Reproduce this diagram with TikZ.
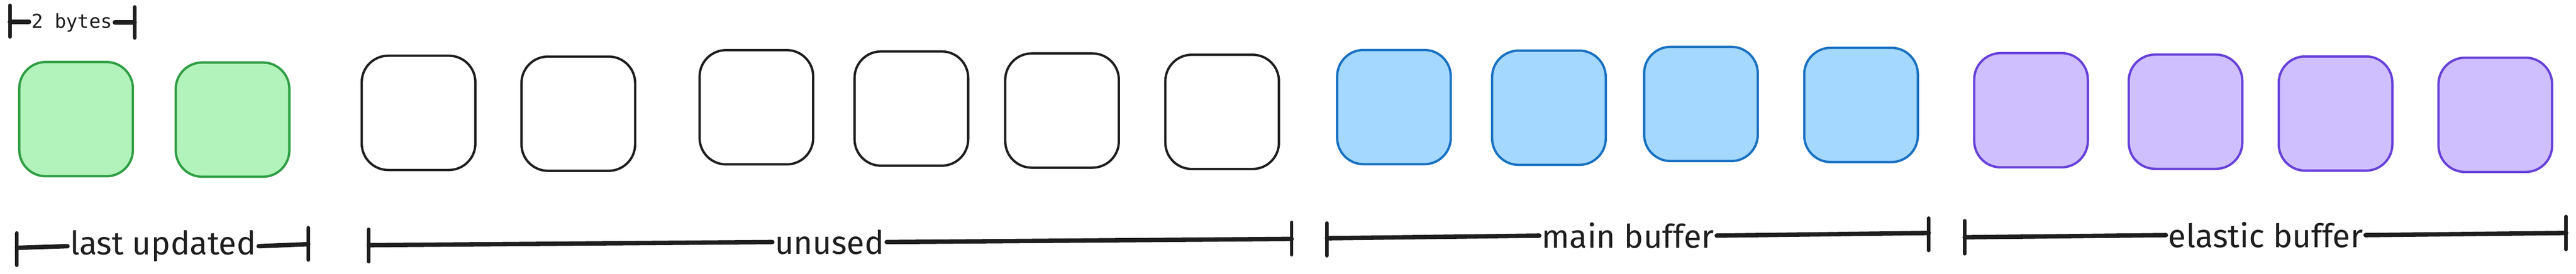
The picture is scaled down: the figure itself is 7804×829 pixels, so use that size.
\documentclass[tikz,border=0pt]{standalone}
\usepackage{fontspec}
\setmainfont{Fira Sans}
\newfontfamily\monofont{DejaVu Sans Mono}
\definecolor{ink}{HTML}{1E1E1E}
\definecolor{gfill}{HTML}{B2F2BB}
\definecolor{gline}{HTML}{2F9E44}
\definecolor{bfill}{HTML}{A5D8FF}
\definecolor{bline}{HTML}{1971C2}
\definecolor{pfill}{HTML}{D0BFFF}
\definecolor{pline}{HTML}{6741D9}
\begin{document}
\begin{tikzpicture}[x=0.01cm,y=-0.01cm,
  cell/.style={rounded corners=0.8cm, line width=2pt, minimum width=3.44cm,
    minimum height=3.46cm, inner sep=0pt},
  gcell/.style={cell, draw=gline, fill=gfill},
  wcell/.style={cell, draw=ink, fill=white},
  bcell/.style={cell, draw=bline, fill=bfill},
  pcell/.style={cell, draw=pline, fill=pfill},
  span/.style={line width=3.8pt, draw=ink, line cap=round},
  bar/.style={line width=3pt, draw=ink, line cap=round},
  lab/.style={font=\fontsize{28}{30}\selectfont, text=ink, inner sep=2pt},
  monolab/.style={font=\monofont\fontsize{16.5}{18}\selectfont, text=ink, inner sep=2pt}]
\useasboundingbox (0,0) rectangle (7804,829);

% cells
\node[gcell] (c1)  at (230.5,361) {};
\node[gcell] (c2)  at (704.5,362.5) {};
\node[wcell] (c3)  at (1268,342) {};
\node[wcell] (c4)  at (1752,344.5) {};
\node[wcell] (c5)  at (2291.5,325) {};
\node[wcell] (c6)  at (2761,329) {};
\node[wcell] (c7)  at (3217.5,335) {};
\node[wcell] (c8)  at (3702.5,339) {};
\node[bcell] (c9)  at (4223,324.5) {};
\node[bcell] (c10) at (4692.5,326.5) {};
\node[bcell] (c11) at (5153,315) {};
\node[bcell] (c12) at (5638,318) {};
\node[pcell] (c13) at (6153,334) {};
\node[pcell] (c14) at (6621,338.5) {};
\node[pcell] (c15) at (7075.5,344) {};
\node[pcell] (c16) at (7559.5,348) {};

% 2 bytes
\coordinate (byL) at (30,66);
\coordinate (byR) at (408,68);
\node[monolab, anchor=base] (by) at (218,85) {2 bytes};
\draw[span] (byL) -- (by.west |- byL);
\draw[span] (by.east |- byR) -- (byR);
\draw[bar] (byL) ++(0,-50) -- ++(0,96);
\draw[bar] (byR) ++(0,-47) -- ++(0,94);

% last updated
\coordinate (luL) at (51,751);
\coordinate (luR) at (934,740);
\node[lab] (lu) at (494,746) {last updated};
\draw[span] (luL) -- (lu.west);
\draw[span] (lu.east) -- (luR);
\draw[bar] (luL) ++(0,-45) -- ++(0,98);
\draw[bar] (luR) ++(0,-50) -- ++(0,98);

% unused
\coordinate (unL) at (1117,743);
\coordinate (unR) at (3913,724);
\node[lab] (un) at (2513,733.5) {unused};
\draw[span] (unL) -- (un.west);
\draw[span] (un.east) -- (unR);
\draw[bar] (unL) ++(0,-48) -- ++(0,98);
\draw[bar] (unR) ++(0,-50) -- ++(0,98);

% main buffer
\coordinate (mbL) at (4020,722);
\coordinate (mbR) at (5843,706);
\node[lab] (mb) at (4932,714) {main buffer};
\draw[span] (mbL) -- (mb.west);
\draw[span] (mb.east) -- (mbR);
\draw[bar] (mbL) ++(0,-46) -- ++(0,99);
\draw[bar] (mbR) ++(0,-45) -- ++(0,98);

% elastic buffer
\coordinate (ebL) at (5952,719);
\coordinate (ebR) at (7774,706);
\node[lab] (eb) at (6864,712.5) {elastic buffer};
\draw[span] (ebL) -- (eb.west);
\draw[span] (eb.east) -- (ebR);
\draw[bar] (ebL) ++(0,-50) -- ++(0,100);
\draw[bar] (ebR) ++(0,-50) -- ++(0,100);
\end{tikzpicture}
\end{document}
